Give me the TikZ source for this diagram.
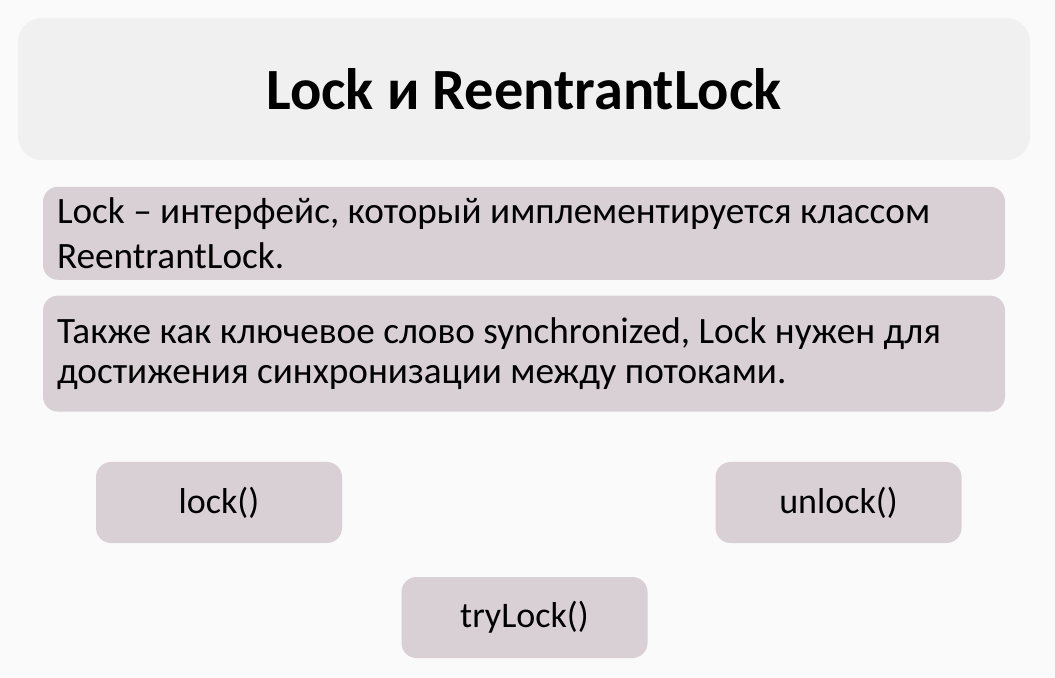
\documentclass[tikz,border=0pt]{standalone}
\usepackage{fontspec}
\setmainfont{Carlito}
\usepackage{tikz}
\usetikzlibrary{positioning}
\definecolor{slidebg}{HTML}{FAFAFA}
\definecolor{titlebg}{HTML}{F0F0F0}
\definecolor{itembg}{HTML}{D9D0D5}

\begin{document}
\begin{tikzpicture}
	[x=0.5pt, y=-0.5pt, node distance=13pt,
	 heading/.style={fill=titlebg, rounded corners=12pt, minimum width=506pt,
	   minimum height=71pt, font=\fontsize{29.2}{34}\selectfont\bfseries},
	 textbox/.style={fill=itembg, rounded corners=7.5pt, minimum width=481pt,
	   text width=467pt, inner xsep=7pt, align=flush left},
	 method/.style={fill=itembg, rounded corners=7.5pt, minimum width=123pt,
	   minimum height=40.5pt, font=\fontsize{18}{22}\selectfont}]
   \fill[slidebg] (0,0) rectangle (1055,678);
   \useasboundingbox (0,0) rectangle (1055,678);
   \node[heading] (title) at (524,89) {Lock и ReentrantLock};
   \node[textbox, minimum height=46.5pt, font=\fontsize{18.6}{22.5}\selectfont]
     (def_1) [below=of title] {Lock – интерфейс, который имплементируется классом\\ReentrantLock.};
   \node[textbox, minimum height=58pt, font=\fontsize{18.6}{20}\selectfont]
     (def_2) [below=7.5pt of def_1] {Также как ключевое слово synchronized, Lock нужен для\\достижения синхронизации между потоками.};
   \node[method] (m_lock) at (219,502.5) {lock()};
   \node[method] (m_unlock) at (838.5,502.5) {unlock()};
   \node[method] (m_try) at (524.5,617.5) {tryLock()};
\end{tikzpicture}
\end{document}
